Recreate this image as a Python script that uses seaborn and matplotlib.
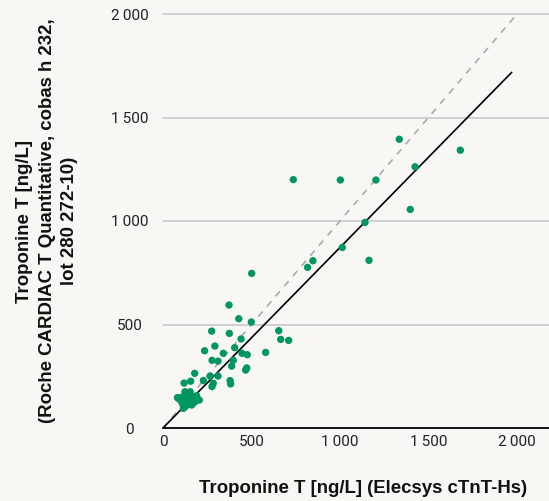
import matplotlib
matplotlib.use("Agg")
import matplotlib.pyplot as plt
import seaborn as sns
import pandas as pd

# ---- data ----
elecsys = [736, 1002, 1203, 1335, 1424, 1680, 1397, 1141, 1013, 847, 817, 1164,
           501, 373, 428, 499, 275, 375, 441, 654, 665, 710, 293, 235, 405, 341,
           446, 476, 580, 277, 311, 397, 388, 473, 467,
           179, 228, 266, 311, 284, 277, 379, 382, 156, 119, 87, 82, 100, 124,
           153, 149, 171, 190, 205, 134, 111, 162, 181, 115, 125, 95, 140, 170,
           110, 130]
cobas = [1200, 1198, 1198, 1395, 1262, 1342, 1056, 993, 872, 808, 776, 810,
         747, 594, 528, 512, 468, 457, 430, 470, 428, 423, 396, 373, 388, 361,
         361, 354, 365, 327, 323, 327, 299, 290, 280,
         264, 229, 251, 251, 216, 200, 229, 213, 226, 217, 143, 147, 132, 175,
         175, 151, 151, 156, 135, 111, 116, 111, 127, 95, 102, 140, 130, 120,
         150, 160]
identity_x = [0, 2000]
identity_y = [0, 2000]
fit_x = [0, 1970]
fit_y = [0, 1718]
ticks = [0, 500, 1000, 1500, 2000]
tick_labels = ["0", "500", "1\u2009000", "1\u2009500", "2\u2009000"]

df = pd.DataFrame({"x": elecsys, "y": cobas})

bg = "#f8f7f3"
sns.set_theme(style="white")
plt.rcParams["font.family"] = ["Roboto", "DejaVu Sans"]

fig = plt.figure(figsize=(5.49, 5.01), dpi=100, facecolor=bg)
ax = fig.add_axes([163 / 549, 1 - 428 / 501, 386 / 549, 414 / 501])
ax.set_facecolor(bg)

ax.set_xlim(0, 386 / 0.177)
ax.set_ylim(0, 2000)

for t in ticks[1:]:
    ax.axhline(t, color="#cccccc", lw=1.3, zorder=0, clip_on=False)

ax.plot(identity_x, identity_y, color="#aaaaaa", lw=1.2, ls=(0, (4, 4)), zorder=1)
ax.plot(fit_x, fit_y, color="black", lw=1.2, zorder=2)

sns.scatterplot(data=df, x="x", y="y", ax=ax, color="#00965f", s=28,
                edgecolor="none", zorder=3, legend=False)

for s in ["top", "right", "left"]:
    ax.spines[s].set_visible(False)
ax.spines["bottom"].set_color("black")
ax.spines["bottom"].set_linewidth(1.3)

ax.set_xticks(ticks)
ax.set_xticklabels(tick_labels)
ax.set_yticks(ticks)
ax.set_yticklabels(tick_labels, ha="center")
ax.tick_params(axis="x", length=0, pad=5, labelsize=11, colors="#222222")
ax.tick_params(axis="y", length=0, pad=24, labelsize=11, colors="#222222")

label_font = ["Liberation Sans", "DejaVu Sans"]
ax.set_xlabel("Troponine T [ng/L] (Elecsys cTnT-Hs)", fontsize=13.4,
              fontweight="bold", color="#111111", va="center", family=label_font)
ax.xaxis.set_label_coords(0.518, -0.145)
ax.set_ylabel("Troponine T [ng/L]\n(Roche CARDIAC T Quantitative, cobas h 232,\nlot 280 272-10)",
              fontsize=13.4, fontweight="bold", color="#111111", va="center",
              linespacing=1.42, family=label_font)
ax.yaxis.set_label_coords(-0.30, 0.5)

fig.savefig("out.png", dpi=100, facecolor=bg)
